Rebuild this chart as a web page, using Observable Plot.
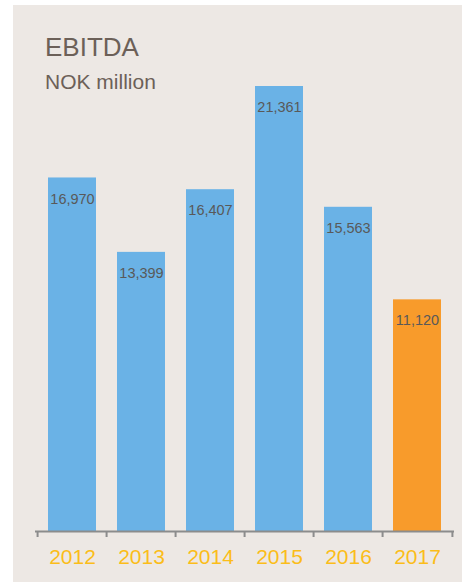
<!DOCTYPE html>
<html>
<head>
<meta charset="utf-8">
<script src="https://cdn.jsdelivr.net/npm/d3@7"></script>
<script src="https://cdn.jsdelivr.net/npm/@observablehq/plot@0.6"></script>
<style>
  html, body { margin: 0; padding: 0; background: #ffffff; }
  body { width: 462px; height: 582px; position: relative; overflow: hidden; font-family: "Liberation Sans", Arial, sans-serif; }
  #panel { position: absolute; left: 13px; top: 5px; width: 449px; height: 577px; background: #ede8e4; }
  #title { position: absolute; left: 45px; top: 34px; font-size: 26px; line-height: 26px; color: #6c6058; white-space: nowrap; }
  #subtitle { position: absolute; left: 45px; top: 71px; font-size: 21px; line-height: 21px; color: #6c6058; white-space: nowrap; }
  #chart { position: absolute; left: 0; top: 0; }
</style>
</head>
<body>
<div id="panel"></div>
<div id="chart"></div>
<div id="title">EBITDA</div>
<div id="subtitle">NOK million</div>
<script>
const years = ["2012", "2013", "2014", "2015", "2016", "2017"];
const ebitda = [16970, 13399, 16407, 21361, 15563, 11120];
const valueLabels = ["16,970", "13,399", "16,407", "21,361", "15,563", "11,120"];
const barColors = ["#6ab2e6", "#6ab2e6", "#6ab2e6", "#6ab2e6", "#6ab2e6", "#f89b2b"];

const data = years.map((y, i) => ({year: y, value: ebitda[i], label: valueLabels[i], color: barColors[i]}));

const W = 462, H = 582, mL = 35, mR = 8, mT = 86, mB = 51;
const step = (W - mL - mR) / years.length;
const tickData = years.map((y, i) => ({year: y, dx: -step / 2}))
  .concat([{year: years[years.length - 1], dx: step / 2}]);

const chart = Plot.plot({
  width: W,
  height: H,
  marginLeft: mL,
  marginRight: mR,
  marginTop: mT,
  marginBottom: mB,
  style: {background: "transparent", fontFamily: "'Liberation Sans', Arial, sans-serif"},
  x: {type: "band", domain: years, paddingInner: 0.3, paddingOuter: 0.15, label: null},
  y: {domain: [0, d3.max(ebitda)], axis: null},
  marks: [
    Plot.barY(data, {x: "year", y: "value", fill: "color"}),
    Plot.text(data, {x: "year", y: "value", text: "label", dy: 21, lineAnchor: "middle", fontSize: 14.5, fill: "#595959"}),
    Plot.ruleY([0], {stroke: "#8c8c8c", strokeWidth: 2}),
    ...tickData.map(t => Plot.ruleX([t.year], {y1: 0, y2: 0, insetBottom: -6, dx: t.dx, stroke: "#8c8c8c", strokeWidth: 2})),
    Plot.axisX({tickSize: 0, tickPadding: 18, fontSize: 21, fill: "#fbbd19", label: null})
  ]
});
document.getElementById("chart").appendChild(chart);
</script>
</body>
</html>
